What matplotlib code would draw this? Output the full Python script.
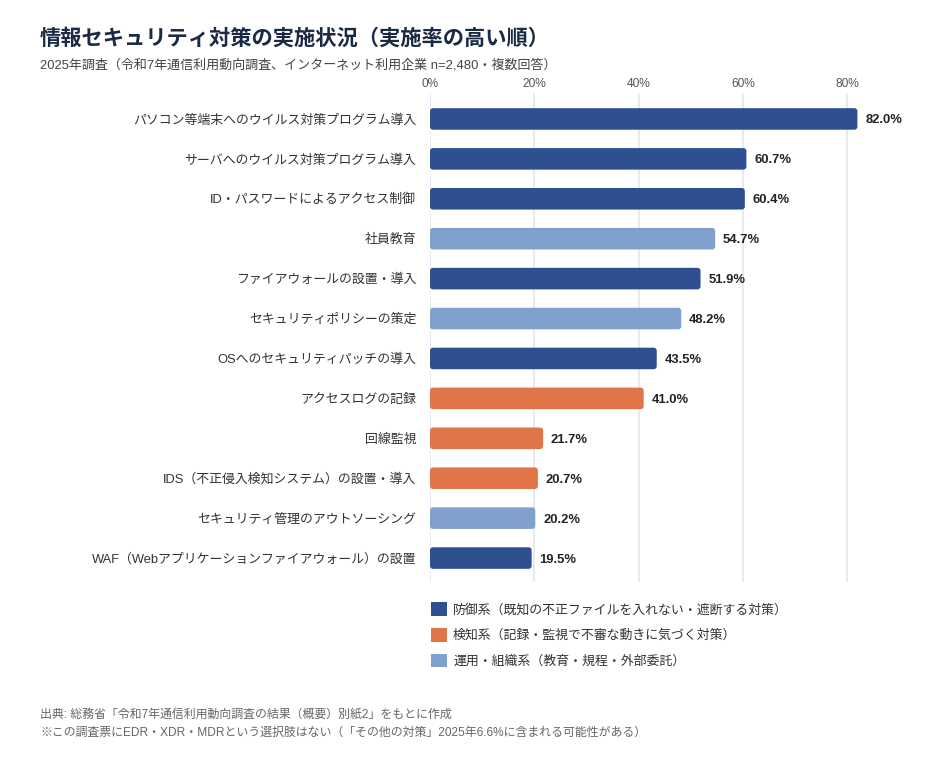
import matplotlib
matplotlib.use("Agg")
import matplotlib.pyplot as plt
from matplotlib.patches import Patch, FancyBboxPatch

FONT = ['Liberation Sans', 'Noto Sans CJK JP', 'DejaVu Sans']
plt.rcParams['font.family'] = FONT

categories = [
    "パソコン等端末へのウイルス対策プログラム導入",
    "サーバへのウイルス対策プログラム導入",
    "ID・パスワードによるアクセス制御",
    "社員教育",
    "ファイアウォールの設置・導入",
    "セキュリティポリシーの策定",
    "OSへのセキュリティパッチの導入",
    "アクセスログの記録",
    "回線監視",
    "IDS（不正侵入検知システム）の設置・導入",
    "セキュリティ管理のアウトソーシング",
    "WAF（Webアプリケーションファイアウォール）の設置",
]
values = [82.0, 60.7, 60.4, 54.7, 51.9, 48.2, 43.5, 41.0, 21.7, 20.7, 20.2, 19.5]
groups = ["def", "def", "def", "ops", "def", "ops", "def", "det", "det", "det", "ops", "def"]

group_keys = ["def", "det", "ops"]
group_labels = [
    "防御系（既知の不正ファイルを入れない・遮断する対策）",
    "検知系（記録・監視で不審な動きに気づく対策）",
    "運用・組織系（教育・規程・外部委託）",
]
group_colors = {"def": "#2E5090", "det": "#E0754A", "ops": "#7FA1CB"}

xticks = [0, 20, 40, 60, 80]
xtick_labels = ["0%", "20%", "40%", "60%", "80%"]

W, H = 940, 760
fig = plt.figure(figsize=(W / 100, H / 100), dpi=100)
XMAX = 85
ax_left, ax_right = 430, 430 + XMAX * (417 / 80)
ax_top, ax_bottom = 93, 582
ax = fig.add_axes([ax_left / W, 1 - ax_bottom / H, (ax_right - ax_left) / W, (ax_bottom - ax_top) / H])

ypos = list(range(len(categories)))
YLIM = (len(categories) - 0.4, -0.65)
bars = ax.barh(ypos, values, height=0.54, color=[group_colors[g] for g in groups], zorder=3)

# rounded corners: replace each bar rectangle with a rounded box of the same extent
px_per_x = (ax_right - ax_left) / XMAX
px_per_y = (ax_bottom - ax_top) / (YLIM[0] - YLIM[1])
r_px = 3.0
r_x = r_px / px_per_x
aspect = (r_px / px_per_y) / r_x
for b in bars:
    x0, y0, w, h = b.get_x(), b.get_y(), b.get_width(), b.get_height()
    fb = FancyBboxPatch((x0, y0), w, h, boxstyle=f"round,pad=0,rounding_size={r_x}",
                        mutation_aspect=aspect, facecolor=b.get_facecolor(),
                        edgecolor="none", zorder=3)
    ax.add_patch(fb)
    b.set_visible(False)

for y, v in zip(ypos, values):
    ax.text(v + 1.5, y, f"{v:.1f}%", va="center_baseline", ha="left", fontsize=9.4,
            fontweight="bold", color="#222222", zorder=4)

ax.set_xlim(0, XMAX)
ax.set_ylim(*YLIM)
ax.set_xticks(xticks)
ax.set_xticklabels(xtick_labels)
ax.xaxis.tick_top()
ax.tick_params(axis="x", length=0, pad=2, labelsize=8.6, labelcolor="#555555")
ax.set_yticks(ypos)
ax.set_yticklabels(categories)
ax.tick_params(axis="y", length=0, pad=10, labelsize=9.3, labelcolor="#333333")
ax.grid(axis="x", color="#E3E6EC", linewidth=1.2, zorder=0)
for s in ax.spines.values():
    s.set_visible(False)

fig.text(40 / W, 1 - 45 / H, "情報セキュリティ対策の実施状況（実施率の高い順）",
         fontsize=15.3, fontweight="bold", color="#1B2A44", ha="left", va="baseline")
fig.text(40 / W, 1 - 69 / H, "2025年調査（令和7年通信利用動向調査、インターネット利用企業 n=2,480・複数回答）",
         fontsize=9.4, color="#444444", ha="left", va="baseline")

handles = [Patch(facecolor=group_colors[k], edgecolor="none") for k in group_keys]
fig.legend(handles, group_labels, loc="upper left",
           bbox_to_anchor=(426 / W, 1 - 597 / H), frameon=False,
           handlelength=1.25, handleheight=1.25, handletextpad=0.45,
           labelspacing=0.9, fontsize=9.3, labelcolor="#333333", borderaxespad=0)

fig.text(40 / W, 1 - 718 / H, "出典: 総務省「令和7年通信利用動向調査の結果（概要）別紙2」をもとに作成",
         fontsize=8.6, color="#666666", ha="left", va="baseline")
fig.text(40 / W, 1 - 736 / H, "※この調査票にEDR・XDR・MDRという選択肢はない（「その他の対策」2025年6.6%に含まれる可能性がある）",
         fontsize=8.6, color="#666666", ha="left", va="baseline")

fig.savefig("out.png", dpi=100, facecolor="white")
